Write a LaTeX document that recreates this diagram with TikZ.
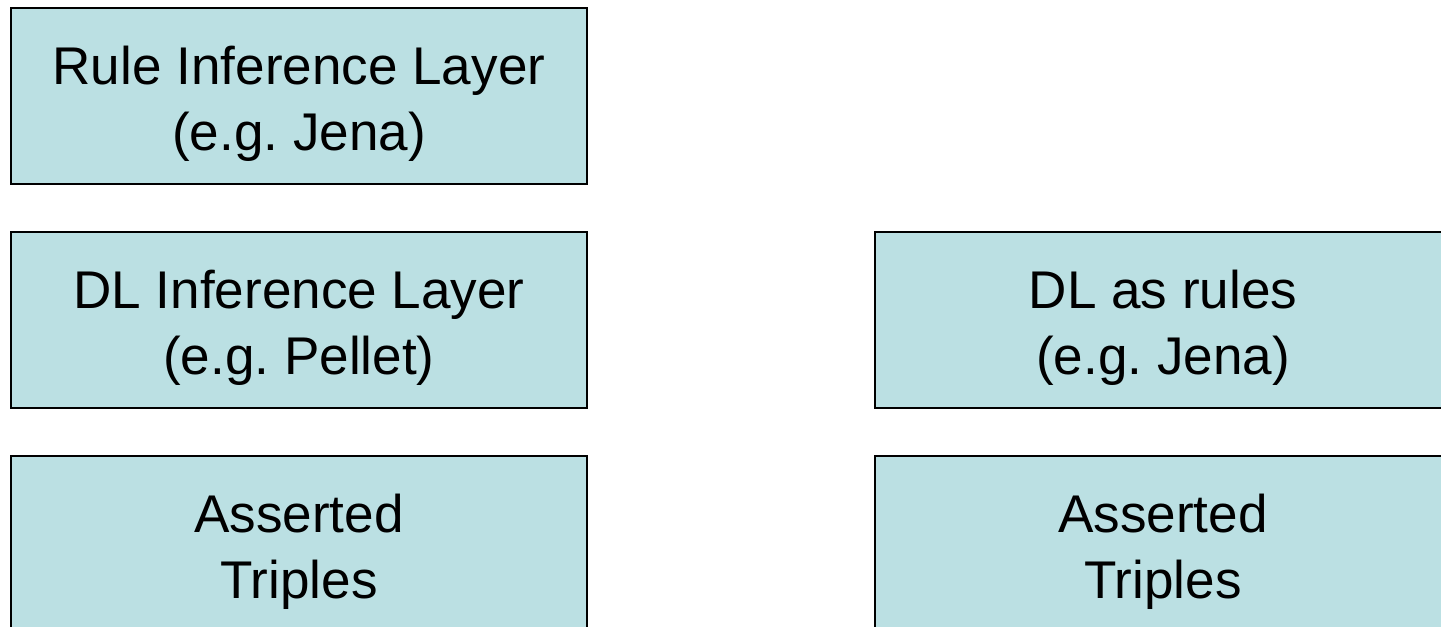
\documentclass[tikz,border=0pt]{standalone}
\usepackage{fontspec}
\setmainfont{Liberation Sans}
\usetikzlibrary{positioning}
\definecolor{layerfill}{RGB}{187,224,227}
\newcommand{\toplift}{\rule{0pt}{15.4pt}}
\tikzset{
    layerbox/.style={rectangle,draw=black,fill=layerfill,line width=0.6pt,outer sep=0pt,
        minimum width=5.76cm,minimum height=1.76cm,align=center,
        font=\fontsize{15.1}{18.9}\selectfont\frenchspacing}
}
\begin{document}
\begin{tikzpicture}
            \useasboundingbox (0,0) rectangle (14.41,-6.27);
            \clip (0,0) rectangle (14.41,-6.27);

            % left stack
            \node[layerbox,anchor=north west] (rule) at (0.11,-0.08) {\toplift Rule Inference Layer\\(e.g. Jena)};
            \node[layerbox,below=0.48cm of rule] (dlinf) {\toplift DL Inference Layer\\(e.g. Pellet)};
            \node[layerbox,below=0.48cm of dlinf] (asserted) {\toplift Asserted\\Triples};

            % right stack
            \node[layerbox,right=2.88cm of dlinf] (dlrules) {\toplift DL as rules\\(e.g. Jena)};
            \node[layerbox,below=0.48cm of dlrules] (assertedr) {\toplift Asserted\\Triples};
        \end{tikzpicture}
\end{document}
